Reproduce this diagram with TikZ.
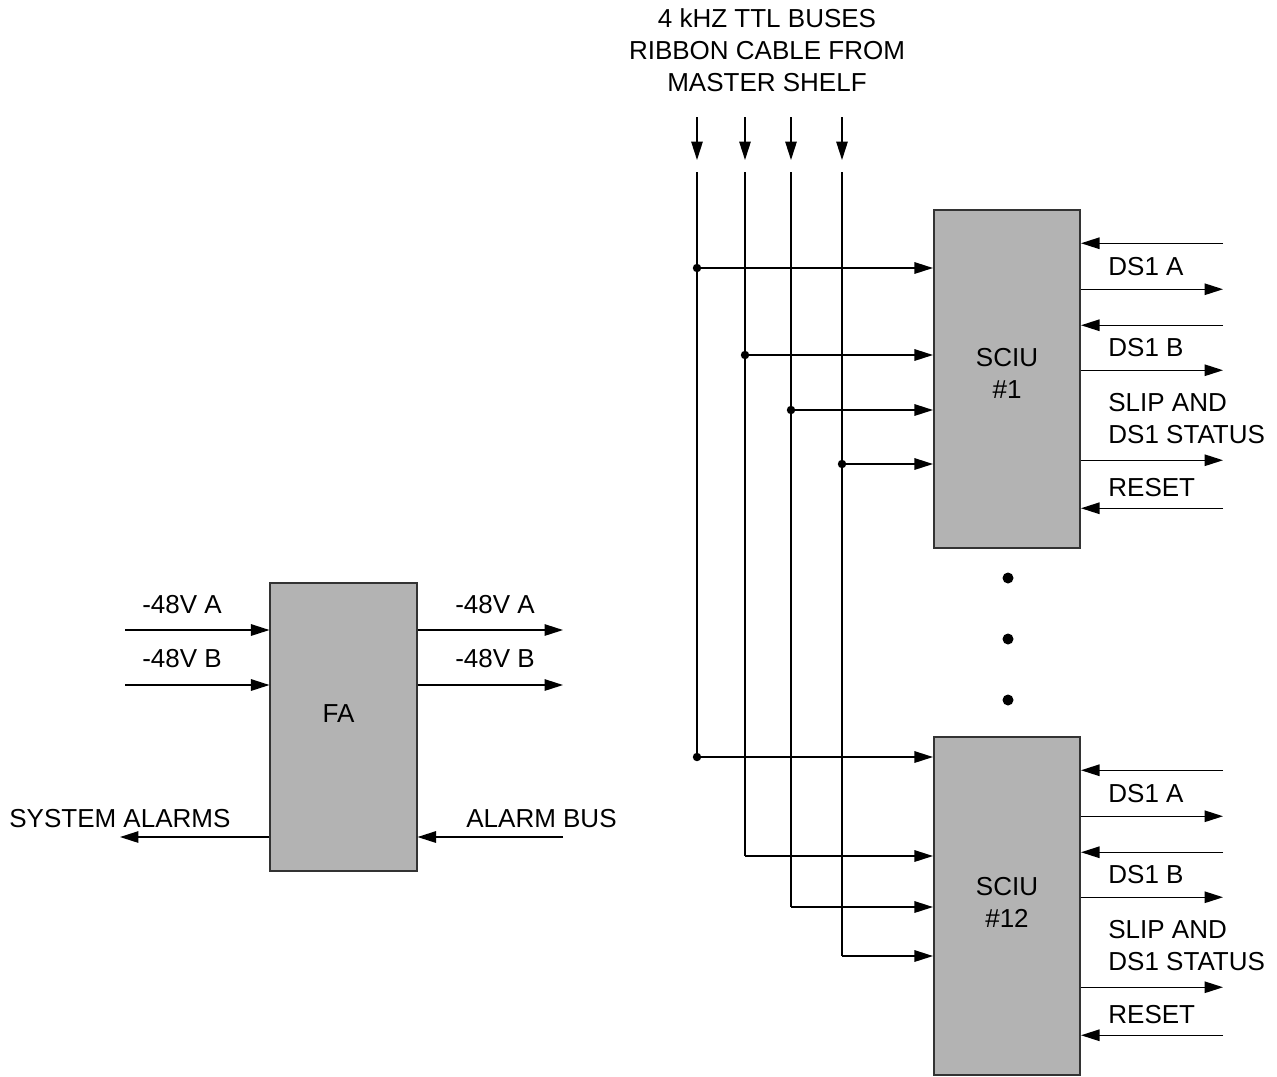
\documentclass[tikz,border=0pt]{standalone}
\usepackage{fontspec}
\setmainfont{Liberation Sans}
\usetikzlibrary{arrows.meta,calc,positioning}
\definecolor{unitgray}{HTML}{B3B3B3}
\definecolor{edge}{HTML}{333333}

\begin{document}
\begin{tikzpicture}[x=0.02cm,y=-0.02cm,
  >={Triangle[length=0.37cm,width=0.23cm]},
  font=\fontsize{14.8}{18.2}\selectfont,
  sig/.style={->,line width=.8pt},
  blk/.style={draw=edge,fill=unitgray,line width=.9pt,inner sep=0pt,
              minimum width=2.93cm,minimum height=6.76cm},
  lbl/.style={inner sep=0pt,anchor=west,align=left}]
\useasboundingbox (0,0) rectangle (1277,1076);

% ---------------- fuse and alarm unit
\node[blk,minimum height=5.76cm] (fa) at (343.5,727) {};
\node[inner sep=0pt] (falbl) at ([xshift=-.1cm,yshift=.26cm]fa.center) {FA};

\coordinate (va) at (125,630);
\coordinate (vb) at (125,685);
\coordinate (vaout) at (563,630);
\coordinate (vbout) at (563,685);
\coordinate (sys) at (120,837);
\coordinate (abus) at (563,837);
\draw[sig] (va) -- (va -| fa.west);
\draw[sig] (vb) -- (vb -| fa.west);
\draw[sig] (vaout -| fa.east) -- (vaout);
\draw[sig] (vbout -| fa.east) -- (vbout);
\draw[sig] (sys -| fa.west) -- (sys);
\draw[sig] (abus) -- (abus -| fa.east);

\node[inner sep=0pt] (lva) at (182,605) {-48V A};
\node[inner sep=0pt] (lvb) at (182,659) {-48V B};
\node[inner sep=0pt] (lvaout) at (495,605) {-48V A};
\node[inner sep=0pt] (lvbout) at (495,659) {-48V B};
\node[lbl] (lsys) at (9,819) {SYSTEM ALARMS};
\node[lbl] (labus) at (466,819) {ALARM BUS};

% ---------------- SCIU shelves
\node[blk] (sciu1) at (1007,379) {};
\node[blk] (sciu12) at (1007,906) {};
\node[inner sep=0pt,align=center] (sciu1lbl) at (1007,373) {SCIU\\\#1};
\node[inner sep=0pt,align=center] (sciu12lbl) at (1007,902) {SCIU\\\#12};

\foreach \y in {578,639,700}
  \fill (1008,\y) circle (0.11cm);

\foreach \b in {1,12} {
  \foreach \dy in {34,116,299}
    \draw[sig] ($(sciu\b.north east)+(142,\dy)$) -- ($(sciu\b.north east)+(0,\dy)$);
  \foreach \dy in {80,161,251}
    \draw[sig] ($(sciu\b.north east)+(0,\dy)$) -- ($(sciu\b.north east)+(142,\dy)$);
  \node[lbl] at ($(sciu\b.north east)+(27,57)$) {DS1 A};
  \node[lbl] at ($(sciu\b.north east)+(27,138)$) {DS1 B};
  \node[lbl] at ($(sciu\b.north east)+(27,209)$) {SLIP AND\\DS1 STATUS};
  \node[lbl] at ($(sciu\b.north east)+(27,278)$) {RESET};
}

% ---------------- 4 kHz buses from master shelf
\node[align=center,inner sep=0pt] (hdr) at (767,50)
  {4 kHZ TTL BUSES\\RIBBON CABLE FROM\\MASTER SHELF};

\foreach \x/\ya/\yb [count=\i] in {697/268/757, 745/355/856, 791/410/907, 842/464/956} {
  \coordinate (in\i) at (\x,117);
  \coordinate (hd\i) at (\x,160);
  \coordinate (top\i) at (\x,172);
  \coordinate (tap\i) at (\x,\ya);
  \coordinate (end\i) at (\x,\yb);
  \draw[sig] (in\i) -- (hd\i);
  \draw[line width=.8pt] (top\i) -- (end\i);
  \draw[sig] (tap\i) -- (tap\i -| sciu1.west);
  \draw[sig] (end\i) -- (end\i -| sciu12.west);
  \fill (tap\i) circle (2.4pt);
}
\fill (end1) circle (2.4pt);
\end{tikzpicture}
\end{document}
